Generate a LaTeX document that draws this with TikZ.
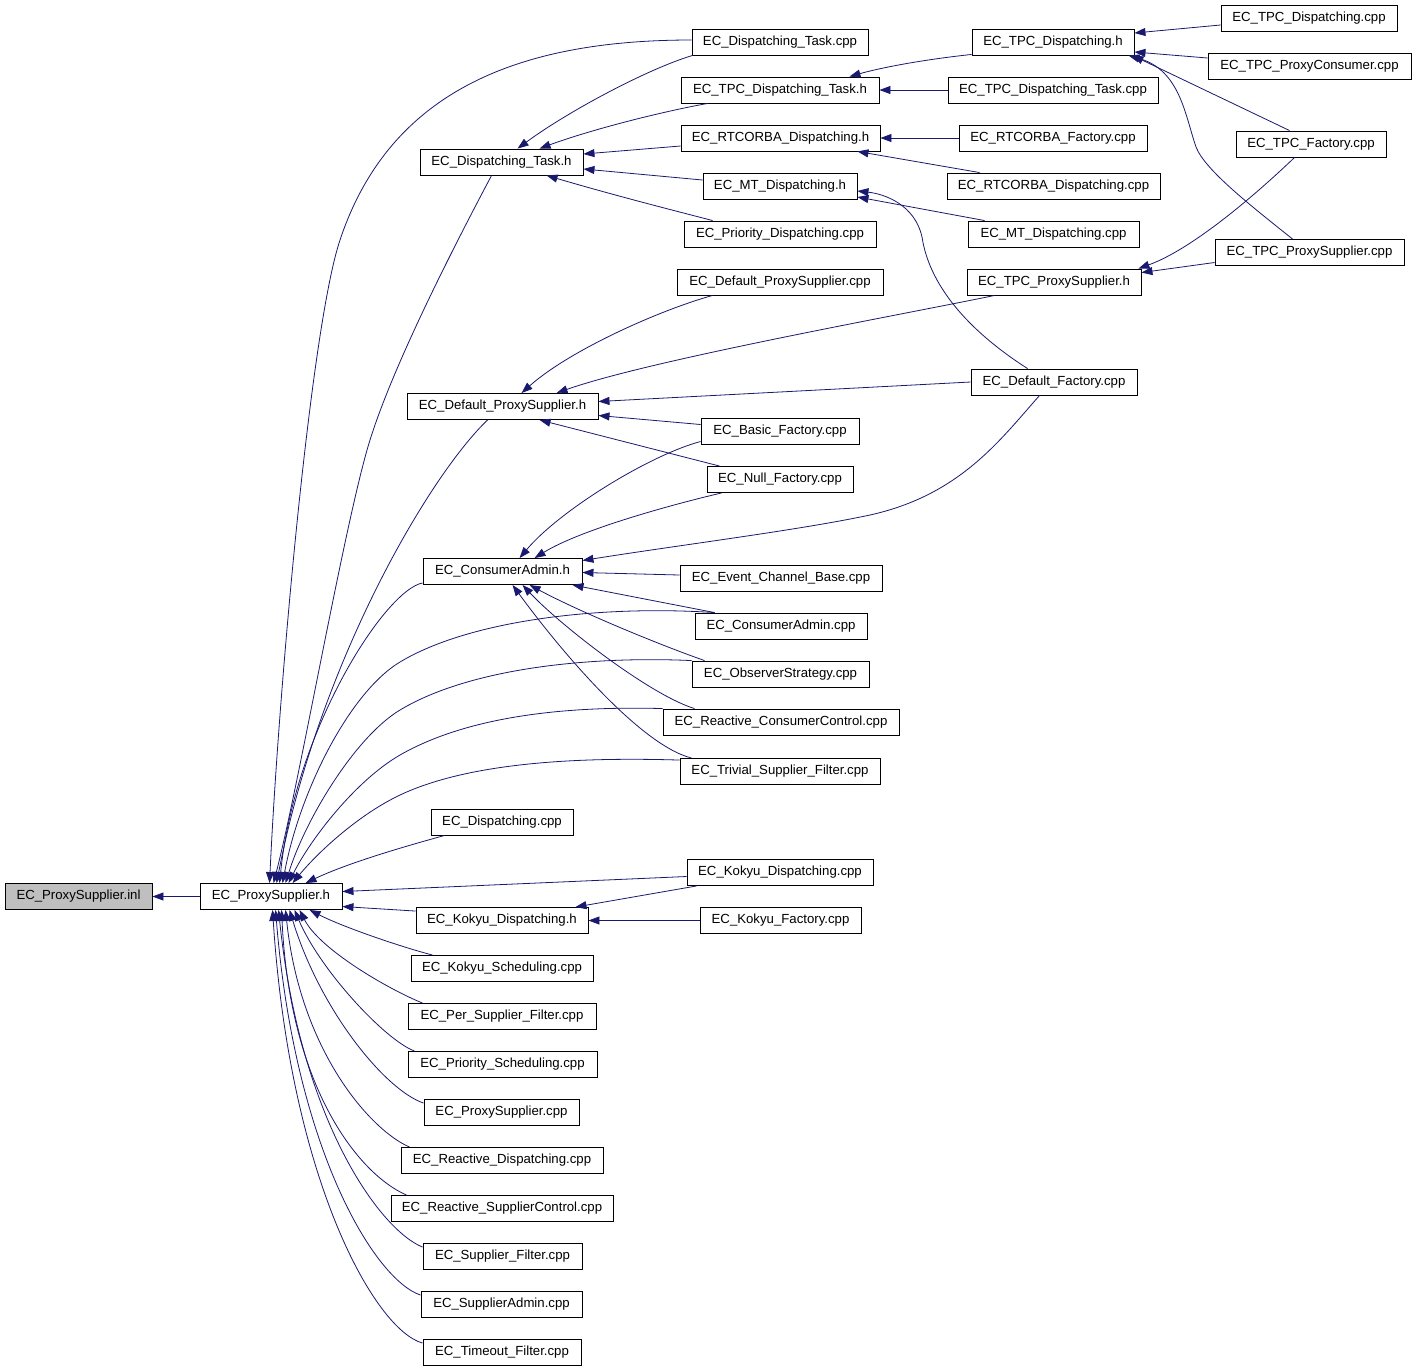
\documentclass[tikz,border=0pt]{standalone}
\usepackage{fontspec}
\setmainfont{Liberation Sans}
\usetikzlibrary{arrows.meta,calc}
\definecolor{navy}{HTML}{191970}
\definecolor{grayfill}{HTML}{BFBFBF}
\tikzset{
  box/.style={draw=black, line width=0.9pt, inner sep=0pt, minimum height=26pt, font=\fontsize{13.2}{15}\selectfont, anchor=center},
  edge/.style={draw=navy, line width=0.8pt, -{Triangle[length=11pt,width=8pt]}, fill=none}
}
\begin{document}
\begin{tikzpicture}[x=1pt,y=-1pt]
\useasboundingbox[fill=white] (0,0) rectangle (1416,1369);
% nodes
\node[box, minimum width=147pt, fill=grayfill] (inl) at (78.5,896.5) {EC\_ProxySupplier.inl};
\node[box, minimum width=142pt] (psh) at (271,896.5) {EC\_ProxySupplier.h};
\node[box, minimum width=176pt] (dtcpp) at (780,42) {EC\_Dispatching\_Task.cpp};
\node[box, minimum width=163pt] (dth) at (501.5,162) {EC\_Dispatching\_Task.h};
\node[box, minimum width=198pt] (tpcdth) at (780,90) {EC\_TPC\_Dispatching\_Task.h};
\node[box, minimum width=199pt] (rtdh) at (780.5,138) {EC\_RTCORBA\_Dispatching.h};
\node[box, minimum width=154pt] (mth) at (780,186) {EC\_MT\_Dispatching.h};
\node[box, minimum width=192pt] (pdcpp) at (780,234) {EC\_Priority\_Dispatching.cpp};
\node[box, minimum width=162pt] (tpcdh) at (1053,42) {EC\_TPC\_Dispatching.h};
\node[box, minimum width=176pt] (tpcdcpp) at (1309,18) {EC\_TPC\_Dispatching.cpp};
\node[box, minimum width=203pt] (tpcpc) at (1309.5,66) {EC\_TPC\_ProxyConsumer.cpp};
\node[box, minimum width=210pt] (tpcdtcpp) at (1053,90) {EC\_TPC\_Dispatching\_Task.cpp};
\node[box, minimum width=188pt] (rtfcpp) at (1053,138) {EC\_RTCORBA\_Factory.cpp};
\node[box, minimum width=213pt] (rtdcpp) at (1053.5,186) {EC\_RTCORBA\_Dispatching.cpp};
\node[box, minimum width=171pt] (mtcpp) at (1053.5,234) {EC\_MT\_Dispatching.cpp};
\node[box, minimum width=150pt] (tpcf) at (1311,144) {EC\_TPC\_Factory.cpp};
\node[box, minimum width=189pt] (tpcpscpp) at (1309.5,252.5) {EC\_TPC\_ProxySupplier.cpp};
\node[box, minimum width=174pt] (tpcpsh) at (1054,282) {EC\_TPC\_ProxySupplier.h};
\node[box, minimum width=206pt] (dpscpp) at (780,282) {EC\_Default\_ProxySupplier.cpp};
\node[box, minimum width=191pt] (dpsh) at (502.5,406.5) {EC\_Default\_ProxySupplier.h};
\node[box, minimum width=166pt] (dfcpp) at (1054,382) {EC\_Default\_Factory.cpp};
\node[box, minimum width=158pt] (bfcpp) at (780,431.5) {EC\_Basic\_Factory.cpp};
\node[box, minimum width=146pt] (nfcpp) at (780,479.5) {EC\_Null\_Factory.cpp};
\node[box, minimum width=159pt] (cah) at (502.5,571.5) {EC\_ConsumerAdmin.h};
\node[box, minimum width=202pt] (ecbcpp) at (781,578) {EC\_Event\_Channel\_Base.cpp};
\node[box, minimum width=172pt] (cacpp) at (781,626) {EC\_ConsumerAdmin.cpp};
\node[box, minimum width=177pt] (oscpp) at (780.5,674) {EC\_ObserverStrategy.cpp};
\node[box, minimum width=236pt] (rcccpp) at (781,722) {EC\_Reactive\_ConsumerControl.cpp};
\node[box, minimum width=200pt] (tsfcpp) at (780,771.5) {EC\_Trivial\_Supplier\_Filter.cpp};
\node[box, minimum width=142pt] (dcpp) at (502,822) {EC\_Dispatching.cpp};
\node[box, minimum width=186pt] (kdcpp) at (780,872.5) {EC\_Kokyu\_Dispatching.cpp};
\node[box, minimum width=172pt] (kdh) at (502,920.5) {EC\_Kokyu\_Dispatching.h};
\node[box, minimum width=161pt] (kfcpp) at (780.5,920.5) {EC\_Kokyu\_Factory.cpp};
\node[box, minimum width=182pt] (kscpp) at (502,968.5) {EC\_Kokyu\_Scheduling.cpp};
\node[box, minimum width=188pt] (psfcpp) at (502,1016.5) {EC\_Per\_Supplier\_Filter.cpp};
\node[box, minimum width=189pt] (prscpp) at (502.5,1064.5) {EC\_Priority\_Scheduling.cpp};
\node[box, minimum width=155pt] (pscpp) at (501.5,1112.5) {EC\_ProxySupplier.cpp};
\node[box, minimum width=202pt] (rdcpp) at (502,1160.5) {EC\_Reactive\_Dispatching.cpp};
\node[box, minimum width=222pt] (rsccpp) at (502,1208.5) {EC\_Reactive\_SupplierControl.cpp};
\node[box, minimum width=159pt] (sfcpp) at (502.5,1256.5) {EC\_Supplier\_Filter.cpp};
\node[box, minimum width=161pt] (sacpp) at (501.5,1304.5) {EC\_SupplierAdmin.cpp};
\node[box, minimum width=158pt] (tfcpp) at (502,1352.5) {EC\_Timeout\_Filter.cpp};

% edges into EC_ProxySupplier.inl
\draw[edge] (psh.west) -- (inl.east);
% edges into EC_ProxySupplier.h (top)
\draw[edge] ($(dtcpp.west)+(0,-2)$) .. controls (520,40) and (390,90) .. (340,240) .. controls (310,330) and (278,700) .. ($(psh.north west)+(70,0)$);
\draw[edge] ($(dth.south west)+(72,0)$) .. controls (460,235) and (395,360) .. (370,440) .. controls (345,520) and (300,780) .. ($(psh.north west)+(74,0)$);
\draw[edge] ($(dpsh.south west)+(81,0)$) .. controls (430,475) and (320,660) .. ($(psh.north west)+(77,0)$);
\draw[edge] ($(cah.south west)+(0,-2)$) .. controls (385,590) and (295,730) .. ($(psh.north west)+(80,0)$);
\draw[edge] ($(cacpp.north west)+(20,0)$) .. controls (600,605) and (470,620) .. (400,662) .. controls (350,692) and (300,790) .. ($(psh.north west)+(83,0)$);
\draw[edge] (oscpp.north west) .. controls (590,656) and (470,668) .. (400,710) .. controls (355,737) and (305,820) .. ($(psh.north west)+(86,0)$);
\draw[edge] (rcccpp.north west) .. controls (570,706) and (470,715) .. (400,755) .. controls (355,781) and (310,840) .. ($(psh.north west)+(89,0)$);
\draw[edge] ($(tsfcpp.north west)+(0,2)$) .. controls (580,757) and (470,762) .. (400,795) .. controls (360,814) and (320,850) .. ($(psh.north west)+(93,0)$);
\draw[edge] ($(dcpp.south west)+(14,0)$) .. controls (410,845) and (350,862) .. ($(psh.north west)+(106,0)$);
% right side
\draw[edge] ($(kdcpp.west)+(0,4)$) -- ($(psh.east)+(0,-5)$);
\draw[edge] ($(kdh.north west)+(0,4)$) -- ($(psh.east)+(0,10)$);
% bottom
\draw[edge] ($(kscpp.north west)+(22,0)$) .. controls (405,948) and (345,928) .. ($(psh.south west)+(110,0)$);
\draw[edge] ($(psfcpp.north west)+(15,0)$) .. controls (390,990) and (320,950) .. ($(psh.south west)+(100,0)$);
\draw[edge] ($(prscpp.north west)+(7,0)$) .. controls (385,1040) and (320,970) .. ($(psh.south west)+(95,0)$);
\draw[edge] ($(pscpp.north west)+(0,4)$) .. controls (385,1090) and (320,1010) .. ($(psh.south west)+(90,0)$);
\draw[edge] ($(rdcpp.north west)+(9,0)$) .. controls (370,1130) and (300,1050) .. ($(psh.south west)+(86,0)$);
\draw[edge] ($(rsccpp.north west)+(16,0)$) .. controls (360,1175) and (290,1090) .. ($(psh.south west)+(82,0)$);
\draw[edge] ($(sfcpp.north west)+(0,4)$) .. controls (380,1230) and (300,1120) .. ($(psh.south west)+(79,0)$);
\draw[edge] ($(sacpp.north west)+(0,4)$) .. controls (375,1280) and (295,1150) .. ($(psh.south west)+(76,0)$);
\draw[edge] ($(tfcpp.north west)+(0,4)$) .. controls (375,1330) and (290,1180) .. ($(psh.south west)+(73,0)$);

% EC_Dispatching_Task.h
\draw[edge] ($(dtcpp.south west)+(1,0)$) .. controls (650,68) and (570,110) .. ($(dth.north west)+(98,0)$);
\draw[edge] ($(tpcdth.south west)+(27,0)$) .. controls (660,112) and (590,130) .. ($(dth.north west)+(120,0)$);
\draw[edge] ($(rtdh.west)+(0,8)$) -- ($(dth.east)+(0,-8)$);
\draw[edge] ($(mth.west)+(0,-6)$) -- ($(dth.east)+(0,7)$);
\draw[edge] ($(pdcpp.north west)+(29,0)$) .. controls (680,212) and (620,197) .. ($(dth.south west)+(127,0)$);

% EC_TPC_Dispatching_Task.h
\draw[edge] ($(tpcdh.south west)+(0,-1)$) .. controls (920,60) and (880,68) .. ($(tpcdth.north east)+(-30,0)$);
\draw[edge] (tpcdtcpp.west) -- (tpcdth.east);
% EC_RTCORBA_Dispatching.h
\draw[edge] (rtfcpp.west) -- (rtdh.east);
\draw[edge] ($(rtdcpp.north west)+(33,0)$) -- ($(rtdh.south east)+(-23,0)$);
% EC_MT_Dispatching.h
\draw[edge] ($(mtcpp.north west)+(17,0)$) -- ($(mth.east)+(0,11)$);
\draw[edge] ($(dfcpp.north west)+(57,0)$) .. controls (975,335) and (930,290) .. (922,237) .. controls (915,205) and (885,194) .. ($(mth.east)+(0,5)$);

% EC_TPC_Dispatching.h
\draw[edge] ($(tpcdcpp.west)+(0,7)$) -- ($(tpcdh.east)+(0,-9)$);
\draw[edge] ($(tpcpc.west)+(0,-8)$) -- ($(tpcdh.east)+(0,10)$);
\draw[edge] ($(tpcf.north west)+(54,0)$) -- ($(tpcdh.south east)+(-2,0)$);
\draw[edge] ($(tpcpscpp.north west)+(78,0)$) .. controls (1250,205) and (1205,170) .. (1196,147) .. controls (1185,115) and (1180,70) .. ($(tpcdh.south east)+(-6,0)$);

% EC_TPC_ProxySupplier.h
\draw[edge] ($(tpcf.south west)+(59,0)$) .. controls (1250,200) and (1190,250) .. ($(tpcpsh.north east)+(-3,0)$);
\draw[edge] ($(tpcpscpp.west)+(0,10)$) -- ($(tpcpsh.north east)+(0,4)$);

% EC_Default_ProxySupplier.h
\draw[edge] ($(dpscpp.south west)+(36,0)$) .. controls (660,310) and (570,350) .. ($(dpsh.north west)+(115,0)$);
\draw[edge] ($(tpcpsh.south west)+(28,0)$) .. controls (900,315) and (650,360) .. ($(dpsh.north west)+(150,0)$);
\draw[edge] (dfcpp.west) -- ($(dpsh.east)+(0,-5)$);
\draw[edge] ($(bfcpp.west)+(0,-7)$) -- ($(dpsh.east)+(0,9)$);
\draw[edge] ($(nfcpp.north west)+(13,0)$) -- ($(dpsh.south west)+(133,0)$);

% EC_ConsumerAdmin.h
\draw[edge] ($(bfcpp.west)+(0,10)$) .. controls (650,455) and (560,510) .. ($(cah.north west)+(97,0)$);
\draw[edge] ($(nfcpp.south west)+(15,0)$) .. controls (670,505) and (580,530) .. ($(cah.north west)+(112,0)$);
\draw[edge] ($(dfcpp.south west)+(69,0)$) .. controls (1000,440) and (960,495) .. (870,515) .. controls (800,530) and (680,545) .. ($(cah.east)+(0,-11)$);
\draw[edge] ($(ecbcpp.west)+(0,-3)$) -- ($(cah.east)+(0,1)$);
\draw[edge] ($(cacpp.north west)+(20,0)$) -- ($(cah.south east)+(-10,0)$);
\draw[edge] ($(oscpp.north west)+(13,0)$) .. controls (660,645) and (580,612) .. ($(cah.south west)+(107,0)$);
\draw[edge] ($(rcccpp.north west)+(32,0)$) .. controls (650,695) and (560,625) .. ($(cah.south west)+(100,0)$);
\draw[edge] ($(tsfcpp.north west)+(12,0)$) .. controls (640,745) and (560,650) .. ($(cah.south west)+(90,0)$);

% EC_Kokyu_Dispatching.h
\draw[edge] ($(kdcpp.south west)+(10,0)$) -- ($(kdh.north east)+(-13,0)$);
\draw[edge] (kfcpp.west) -- (kdh.east);
\end{tikzpicture}
\end{document}
